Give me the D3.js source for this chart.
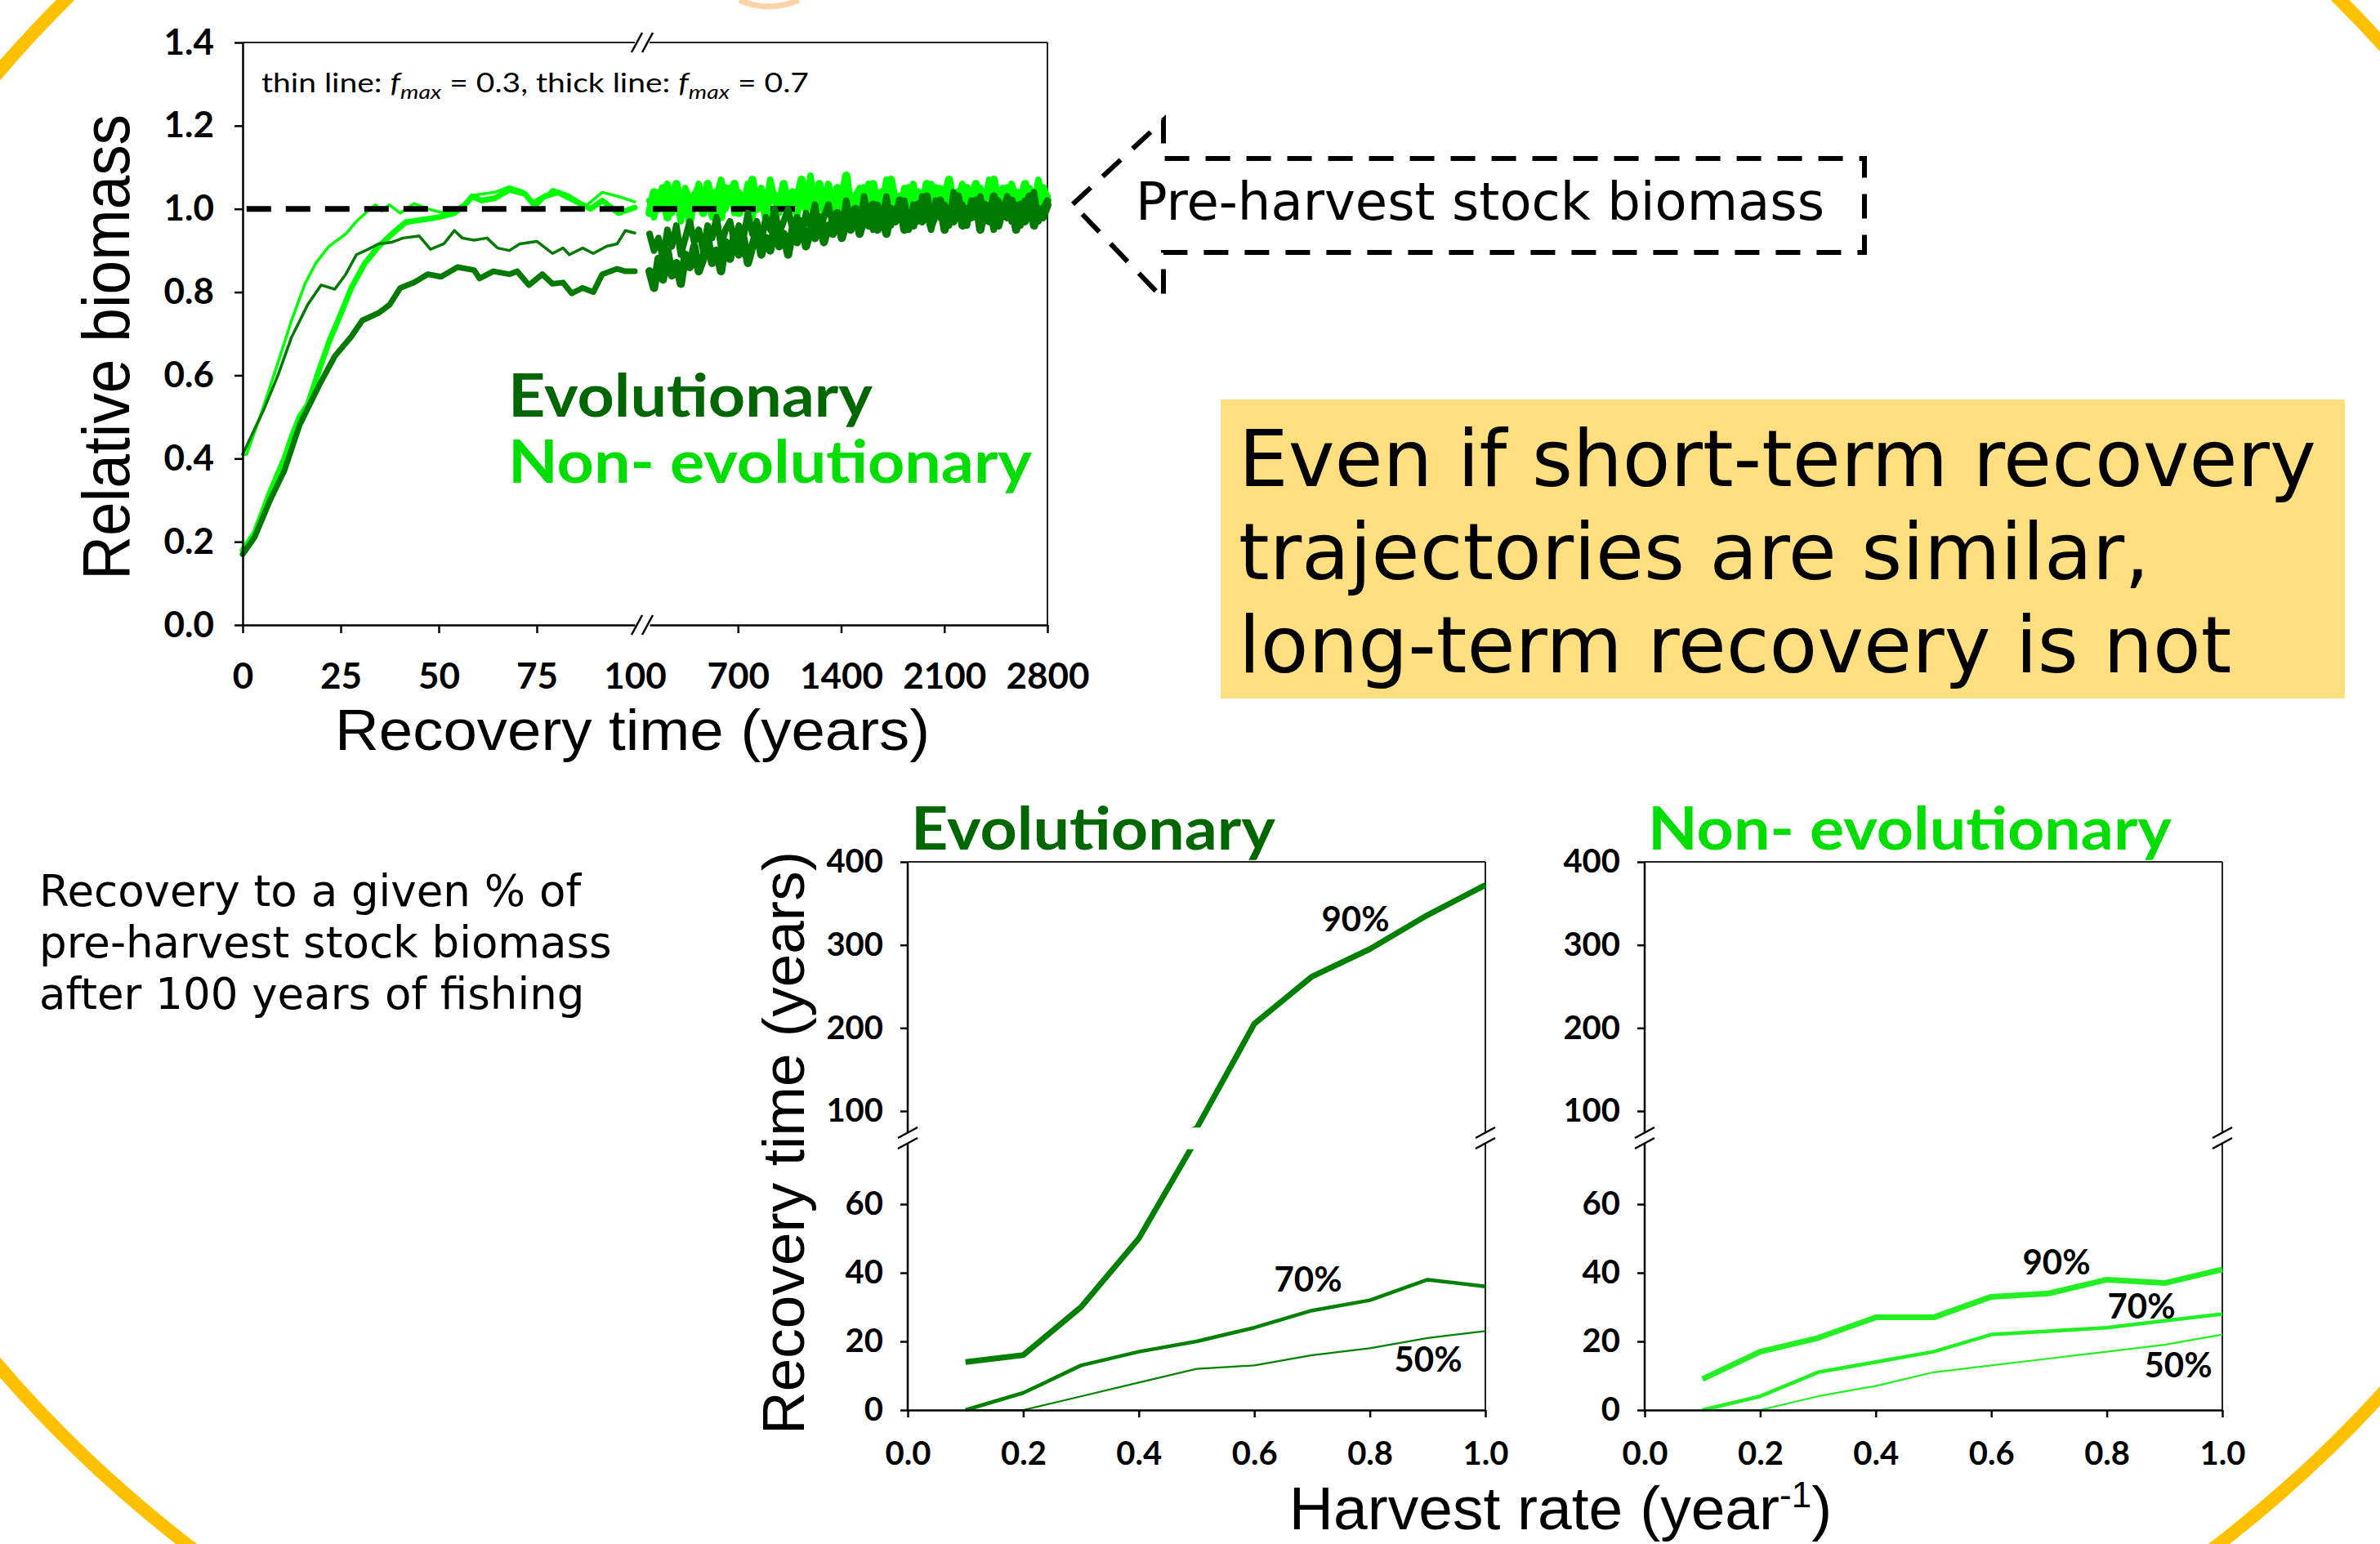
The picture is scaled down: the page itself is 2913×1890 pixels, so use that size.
<!DOCTYPE html>
<html>
<head>
<meta charset="utf-8">
<script src="https://cdn.jsdelivr.net/npm/d3@7"></script>
<style>
  body { margin: 0; background: #fff; overflow: hidden; }
  svg { display: block; }
</style>
</head>
<body>
<div id="chart"></div>
<script>
// ---- data: top chart, short-term recovery (years 0-100), [year, relative biomass]
const evoThinShort = [[0,0.41],[5.5,0.52],[9,0.60],[12.4,0.69],[16.6,0.77],[20,0.817],[23.5,0.807],[26.3,0.843],[29,0.89],[32,0.903],[34.7,0.916],[38.1,0.92],[40.9,0.93],[45,0.935],[47.9,0.903],[51.3,0.916],[54,0.948],[56,0.93],[59,0.925],[62.3,0.93],[65,0.906],[68,0.9],[70.7,0.916],[75,0.922],[79,0.893],[81.7,0.906],[83.3,0.89],[86.7,0.906],[89.4,0.893],[92.8,0.91],[95.5,0.916],[97.6,0.948],[100,0.942]];
const evoThickShort = [[0,0.17],[3,0.21],[7,0.30],[10.6,0.37],[14.5,0.48],[19.4,0.574],[23.5,0.646],[27.7,0.693],[30.5,0.732],[34.7,0.75],[37.5,0.77],[40.2,0.81],[43.7,0.823],[47.2,0.843],[50.6,0.837],[54.8,0.86],[59,0.853],[60.4,0.833],[63.9,0.85],[68,0.843],[70,0.85],[73,0.817],[76.4,0.843],[79,0.82],[81.7,0.823],[83.9,0.797],[86.7,0.81],[89.4,0.8],[91.7,0.843],[95.5,0.856],[97.6,0.85],[100,0.85]];
const nonEvoThinShort = [[0,0.41],[1,0.41],[4.8,0.51],[9,0.63],[12.4,0.73],[15.9,0.82],[18.7,0.87],[22,0.91],[26.3,0.94],[29,0.97],[32.5,1.0],[33.9,1.01],[35.5,0.995],[37.4,1.01],[40.2,0.99],[43.7,1.013],[47.2,1.0],[51.3,0.99],[56,1.007],[59,1.033],[64.4,1.04],[68,1.053],[71.5,1.043],[75,1.007],[79,1.047],[83.3,1.033],[87.5,1.007],[91.7,1.04],[95.8,1.03],[100,1.017]];
const nonEvoThickShort = [[0,0.18],[3,0.22],[7,0.32],[10.6,0.40],[12.4,0.45],[14.5,0.5],[16.6,0.53],[19.4,0.61],[22,0.68],[24.9,0.745],[27.7,0.81],[31.2,0.87],[34.7,0.91],[38.1,0.94],[41.6,0.968],[45.8,0.974],[50,0.98],[54,0.99],[57,1.013],[58.5,1.03],[61,1.02],[64.4,1.026],[68,1.046],[72,1.036],[74,1.013],[77,1.03],[80.4,1.04],[84.6,1.02],[88.7,1.0],[91.7,1.02],[95.8,0.99],[100,1.003]];

// ---- data: top chart, long-term recovery (years 100-2800, evenly spaced samples)
const evoThinLong = [
  0.94,0.90,0.93,0.88,0.95,0.91,0.96,0.89,0.93,0.97, 0.92,0.95,0.90,0.96,0.93,0.98,0.91,0.95,0.97,0.92,
  0.96,0.93,0.99,0.94,0.97,0.92,0.98,0.95,1.00,0.94, 0.97,1.00,0.95,0.98,0.93,0.99,0.96,1.01,0.94,0.98,
  1.01,0.96,0.99,0.95,1.02,0.97,1.00,0.96,1.03,0.98, 0.95,1.01,0.97,1.03,0.96,1.00,0.98,1.02,0.95,1.01,
  0.97,1.03,0.99,0.95,1.02,0.98,1.01,0.96,1.04,0.99, 1.01,0.96,1.02,0.98,1.03,0.97,1.00,0.95,1.02,0.99,
  1.03,0.97,1.01,0.96,1.02,0.99,1.04,0.97,1.00,1.02];
const evoThickLong = [
  0.85,0.81,0.88,0.83,0.90,0.84,0.87,0.82,0.89,0.86, 0.91,0.85,0.88,0.93,0.87,0.90,0.85,0.92,0.88,0.94,
  0.89,0.93,0.87,0.91,0.95,0.89,0.93,0.90,0.96,0.91, 0.94,0.89,0.95,0.92,0.97,0.91,0.95,0.93,0.98,0.92,
  0.96,0.94,0.99,0.93,0.97,0.95,1.00,0.94,0.98,0.96, 1.01,0.95,0.98,0.94,1.00,0.97,1.02,0.95,0.99,0.96,
  1.01,0.97,1.03,0.96,0.99,1.02,0.95,1.00,0.97,1.03, 0.96,1.00,0.98,1.02,0.95,1.01,0.97,1.03,0.96,1.00,
  0.98,1.02,0.95,1.01,0.97,1.03,0.96,1.00,0.98,1.01];
const nonEvoThinLong = [
  1.02,0.98,1.04,1.01,1.06,0.99,1.03,0.97,1.05,1.02, 1.00,1.06,1.01,1.04,0.98,1.03,1.07,1.00,1.05,0.99,
  1.04,1.01,1.06,0.98,1.03,1.05,1.00,1.07,1.02,0.99, 1.05,1.01,1.04,0.98,1.06,1.02,1.08,1.00,1.03,0.99,
  1.06,1.02,1.04,1.00,1.07,0.99,1.03,1.05,1.01,1.06, 0.98,1.04,1.01,1.07,1.00,1.03,0.99,1.05,1.02,1.06,
  1.00,1.04,0.98,1.06,1.02,1.05,0.99,1.07,1.01,1.03, 1.06,1.00,1.04,0.98,1.05,1.02,1.07,0.99,1.03,1.05,
  1.00,1.06,1.02,1.04,0.98,1.05,1.01,1.07,1.00,1.03];
const nonEvoThickLong = [
  0.99,1.04,1.00,1.05,0.98,1.03,1.06,1.00,1.04,0.97, 1.03,1.05,0.99,1.06,1.01,1.04,0.98,1.05,1.02,1.06,
  0.99,1.03,1.01,1.07,1.00,1.04,0.98,1.05,1.03,1.00, 1.06,0.99,1.04,1.02,1.07,1.00,1.03,0.98,1.06,1.01,
  1.04,0.99,1.05,1.02,1.08,1.00,1.03,0.98,1.05,1.02, 1.06,1.00,1.04,0.99,1.07,1.01,1.03,0.98,1.05,1.02,
  1.04,0.99,1.06,1.01,1.05,0.98,1.03,1.07,1.00,1.04, 0.99,1.05,1.02,1.06,1.00,1.04,0.98,1.07,1.01,1.03,
  1.05,0.99,1.04,1.01,1.06,1.00,1.03,0.98,1.05,1.02];

const bioTicks = [0, 0.2, 0.4, 0.6, 0.8, 1.0, 1.2, 1.4];
const shortTicks = [0, 25, 50, 75, 100];
const longTicks = [700, 1400, 2100, 2800];

// ---- data: bottom charts, recovery time (years) vs harvest rate
const harvestRates = [0.1, 0.2, 0.3, 0.4, 0.5, 0.6, 0.7, 0.8, 0.9, 1.0];
const evo90 = [14, 16, 30, 50, 79, 205, 262, 295, 336, 372];
const evo70 = [0, 5, 13, 17, 20, 24, 29, 32, 38, 36];
const evo50 = [0, 0, 4, 8, 12, 13, 16, 18, 21, 23];
const nonEvo90 = [9, 17, 21, 27, 27, 33, 34, 38, 37, 41];
const nonEvo70 = [0, 4, 11, 14, 17, 22, 23, 24, 26, 28];
const nonEvo50 = [0, 0, 4, 7, 11, 13, 15, 17, 19, 22];
const harvestTicks = [0, 0.2, 0.4, 0.6, 0.8, 1.0];
const upperTicks = [100, 200, 300, 400];
const lowerTicks = [0, 20, 40, 60];

const DARK = "#007a00", BRIGHT = "#00ff00";
const DARK_TEXT = "#006600", BRIGHT_TEXT = "#00dd00";
const CAL = "Lato, 'Open Sans', sans-serif";
const ARIAL = "'Liberation Sans', Arial, sans-serif";
const VERD = "'DejaVu Sans', Verdana, sans-serif";

const width = 2913, height = 1890;
const svg = d3.select("#chart").append("svg")
  .attr("width", width)
  .attr("height", height);

// slide decoration: big yellow ring
svg.append("ellipse")
  .attr("cx", 1472).attr("cy", 880).attr("rx", 1780).attr("ry", 1412)
  .attr("fill", "none").attr("stroke", "#ffc000").attr("stroke-width", 16);
svg.append("path")
  .attr("d", "M905,0 Q940,16 978,0")
  .attr("fill", "none").attr("stroke", "#fcd2a8").attr("stroke-width", 7);

function styleAxis(g, size) {
  g.attr("font-family", CAL).attr("font-size", size).attr("font-weight", "bold");
  g.selectAll("line").attr("stroke", "#000").attr("stroke-width", 2.5);
  g.selectAll("path.domain").attr("stroke", "#000").attr("stroke-width", 2.5);
  g.selectAll("text").attr("fill", "#000");
}

// "//" axis break; vertical=true for a break on a vertical axis
function breakMark(cx, cy, vertical) {
  const g = svg.append("g").attr("transform", `translate(${cx},${cy})`);
  if (vertical) {
    g.append("polygon").attr("points", "-12,0 12,-13 12,0 -12,13").attr("fill", "#fff");
    g.append("line").attr("x1", -12).attr("y1", 0).attr("x2", 12).attr("y2", -13);
    g.append("line").attr("x1", -12).attr("y1", 13).attr("x2", 12).attr("y2", 0);
  } else {
    g.append("polygon").attr("points", "-13,12 0,-12 13,-12 0,12").attr("fill", "#fff");
    g.append("line").attr("x1", -13).attr("y1", 12).attr("x2", 0).attr("y2", -12);
    g.append("line").attr("x1", 0).attr("y1", 12).attr("x2", 13).attr("y2", -12);
  }
  g.selectAll("line").attr("stroke", "#000").attr("stroke-width", 2.5);
}

// ================= top chart =================
const topBox = { left: 297, right: 1282, top: 52, bottom: 765 };
const xShort = d3.scaleLinear().domain([0, 100]).range([297, 777]);
const xLong = d3.scaleLinear().domain([100, 2800]).range([795, 1282]);
const yBio = d3.scaleLinear().domain([0, 1.4]).range([topBox.bottom, topBox.top]);

const shortLine = d3.line().x(d => xShort(d[0])).y(d => yBio(d[1]));
const longLine = d3.line().x(d => xLong(d[0])).y(d => yBio(d[1]));
const withYears = vals => vals.map((v, i) => [100 + i * 2700 / (vals.length - 1), v]);

function drawLine(gen, data, color, w) {
  svg.append("path").datum(data)
    .attr("d", gen)
    .attr("fill", "none")
    .attr("stroke", color)
    .attr("stroke-width", w)
    .attr("stroke-linejoin", "round")
    .attr("stroke-linecap", "round");
}

// frame
svg.append("line").attr("x1", 297).attr("x2", 777).attr("y1", topBox.top).attr("y2", topBox.top);
svg.append("line").attr("x1", 795).attr("x2", topBox.right).attr("y1", topBox.top).attr("y2", topBox.top);
svg.append("line").attr("x1", topBox.right).attr("x2", topBox.right).attr("y1", topBox.top).attr("y2", topBox.bottom);
svg.selectAll("line").attr("stroke", "#222").attr("stroke-width", 2);

// non-evolutionary (bright) lines
drawLine(longLine, withYears(nonEvoThinLong), BRIGHT, 8);
drawLine(longLine, withYears(nonEvoThickLong), BRIGHT, 10);
drawLine(shortLine, nonEvoThinShort, BRIGHT, 3.5);
drawLine(shortLine, nonEvoThickShort, BRIGHT, 7);

// pre-harvest reference level
svg.append("line")
  .attr("x1", xShort(1)).attr("x2", xShort(100))
  .attr("y1", yBio(1)).attr("y2", yBio(1))
  .attr("stroke", "#000").attr("stroke-width", 7).attr("stroke-dasharray", "30,18");
svg.append("line")
  .attr("x1", xLong(100) + 4).attr("x2", xLong(1100))
  .attr("y1", yBio(1)).attr("y2", yBio(1))
  .attr("stroke", "#000").attr("stroke-width", 7).attr("stroke-dasharray", "30,18");

// evolutionary (dark) lines
drawLine(longLine, withYears(evoThinLong), DARK, 8);
drawLine(longLine, withYears(evoThickLong), DARK, 10);
drawLine(shortLine, evoThinShort, DARK, 3.5);
drawLine(shortLine, evoThickShort, DARK, 7);

// axes
const gyBio = svg.append("g")
  .attr("transform", `translate(${topBox.left},0)`)
  .call(d3.axisLeft(yBio).tickValues(bioTicks).tickFormat(d3.format(".1f")).tickSize(10).tickSizeOuter(0).tickPadding(25));
styleAxis(gyBio, 44);

const gxShort = svg.append("g")
  .attr("transform", `translate(0,${topBox.bottom})`)
  .call(d3.axisBottom(xShort).tickValues(shortTicks).tickFormat(d3.format("d")).tickSize(10).tickSizeOuter(0).tickPadding(37));
styleAxis(gxShort, 44);
gxShort.selectAll(".tick").filter(d => d === 100).select("line").remove();

const gxLong = svg.append("g")
  .attr("transform", `translate(0,${topBox.bottom})`)
  .call(d3.axisBottom(xLong).tickValues(longTicks).tickFormat(d3.format("d")).tickSize(10).tickSizeOuter(0).tickPadding(37));
styleAxis(gxLong, 44);

breakMark(786, topBox.top, false);
breakMark(786, topBox.bottom, false);

// titles and labels
svg.append("text")
  .attr("transform", "translate(158,425) rotate(-90)")
  .attr("text-anchor", "middle")
  .attr("font-family", ARIAL).attr("font-size", 82)
  .attr("textLength", 570).attr("lengthAdjust", "spacingAndGlyphs")
  .text("Relative biomass");

svg.append("text")
  .attr("x", 774).attr("y", 918)
  .attr("text-anchor", "middle")
  .attr("font-family", ARIAL).attr("font-size", 70)
  .attr("textLength", 728).attr("lengthAdjust", "spacingAndGlyphs")
  .text("Recovery time (years)");

const fmax = svg.append("text")
  .attr("x", 320).attr("y", 113)
  .attr("font-family", CAL).attr("font-size", 33)
  .attr("textLength", 670).attr("lengthAdjust", "spacingAndGlyphs")
  .style("white-space", "pre");
fmax.append("tspan").text("thin line: ");
fmax.append("tspan").attr("font-style", "italic").text("f");
fmax.append("tspan").attr("font-style", "italic").attr("font-size", 24).attr("dy", 8).text("max");
fmax.append("tspan").attr("dy", -8).text(" = 0.3, thick line: ");
fmax.append("tspan").attr("font-style", "italic").text("f");
fmax.append("tspan").attr("font-style", "italic").attr("font-size", 24).attr("dy", 8).text("max");
fmax.append("tspan").attr("dy", -8).text(" = 0.7");

svg.append("text")
  .attr("x", 622).attr("y", 510)
  .attr("font-family", CAL).attr("font-size", 72).attr("font-weight", "bold")
  .attr("fill", DARK_TEXT)
  .attr("textLength", 446).attr("lengthAdjust", "spacingAndGlyphs")
  .text("Evolutionary");
svg.append("text")
  .attr("x", 622).attr("y", 591)
  .attr("font-family", CAL).attr("font-size", 72).attr("font-weight", "bold")
  .attr("fill", BRIGHT_TEXT)
  .attr("textLength", 641).attr("lengthAdjust", "spacingAndGlyphs")
  .text("Non- evolutionary");

// ================= callouts =================
svg.append("path")
  .attr("d", "M1313,250 L1424,147 L1424,194 L2282,194 L2282,309 L1424,309 L1424,366 Z")
  .attr("fill", "none").attr("stroke", "#000").attr("stroke-width", 6)
  .attr("stroke-dasharray", "30,20");
svg.append("text")
  .attr("x", 1390).attr("y", 269)
  .attr("font-family", VERD).attr("font-size", 64)
  .text("Pre-harvest stock biomass");

svg.append("rect")
  .attr("x", 1494).attr("y", 489).attr("width", 1376).attr("height", 366)
  .attr("fill", "#ffdf80");
const noteLines = ["Even if short-term recovery", "trajectories are similar,", "long-term recovery is not"];
svg.append("g").selectAll("text").data(noteLines).join("text")
  .attr("x", 1516).attr("y", (d, i) => 595 + i * 114)
  .attr("font-family", VERD).attr("font-size", 96)
  .text(d => d);

const sideLines = ["Recovery to a given % of", "pre-harvest stock biomass", "after 100 years of fishing"];
svg.append("g").selectAll("text").data(sideLines).join("text")
  .attr("x", 48).attr("y", (d, i) => 1109 + i * 63)
  .attr("font-family", VERD).attr("font-size", 53)
  .text(d => d);

// ================= bottom charts =================
const botTop = 1055, botBottom = 1726, breakY = 1393;
const yUpper = d3.scaleLinear().domain([100, 400]).range([1360, botTop]);
const yLower = d3.scaleLinear().domain([0, 60]).range([botBottom, 1474]);

function drawPanel(id, left, right, title, titleColor, lineColor, series) {
  const x = d3.scaleLinear().domain([0, 1]).range([left, right]);
  const defs = svg.append("defs");
  defs.append("clipPath").attr("id", id + "-up")
    .append("rect").attr("x", left - 20).attr("y", botTop - 20).attr("width", right - left + 40).attr("height", yUpper(80) - botTop + 20);
  defs.append("clipPath").attr("id", id + "-low")
    .append("rect").attr("x", left - 20).attr("y", yLower(76)).attr("width", right - left + 40).attr("height", botBottom + 20 - yLower(76));

  // frame
  svg.append("line").attr("x1", left).attr("x2", right).attr("y1", botTop).attr("y2", botTop)
    .attr("stroke", "#222").attr("stroke-width", 2);
  svg.append("line").attr("x1", right).attr("x2", right).attr("y1", botTop).attr("y2", botBottom)
    .attr("stroke", "#222").attr("stroke-width", 2);
  svg.append("line").attr("x1", left).attr("x2", left).attr("y1", botTop).attr("y2", botBottom)
    .attr("stroke", "#000").attr("stroke-width", 2.5);

  series.forEach(s => {
    const pts = harvestRates.map((r, i) => [r, s.values[i]]);
    [["-up", yUpper], ["-low", yLower]].forEach(([suffix, y]) => {
      svg.append("path").datum(pts)
        .attr("clip-path", `url(#${id}${suffix})`)
        .attr("d", d3.line().x(d => x(d[0])).y(d => y(d[1])))
        .attr("fill", "none")
        .attr("stroke", lineColor)
        .attr("stroke-width", s.width)
        .attr("stroke-linejoin", "round");
    });
    svg.append("text")
      .attr("x", s.label[0]).attr("y", s.label[1])
      .attr("text-anchor", "middle")
      .attr("font-family", CAL).attr("font-size", 42).attr("font-weight", "bold")
      .text(s.name);
  });

  const gu = svg.append("g").attr("transform", `translate(${left},0)`)
    .call(d3.axisLeft(yUpper).tickValues(upperTicks).tickSize(9).tickSizeOuter(0).tickPadding(21));
  const gl = svg.append("g").attr("transform", `translate(${left},0)`)
    .call(d3.axisLeft(yLower).tickValues(lowerTicks).tickSize(9).tickSizeOuter(0).tickPadding(21));
  const gx = svg.append("g").attr("transform", `translate(0,${botBottom})`)
    .call(d3.axisBottom(x).tickValues(harvestTicks).tickFormat(d3.format(".1f")).tickSize(9).tickSizeOuter(0).tickPadding(30));
  [gu, gl, gx].forEach(g => styleAxis(g, 40));
  gu.select("path.domain").remove();
  gl.select("path.domain").remove();

  breakMark(left, breakY, true);
  breakMark(right, breakY, true);

  svg.append("text")
    .attr("x", left + 4).attr("y", 1040)
    .attr("font-family", CAL).attr("font-size", 72).attr("font-weight", "bold")
    .attr("fill", titleColor)
    .attr("textLength", title.length > 12 ? 641 : 446).attr("lengthAdjust", "spacingAndGlyphs")
    .text(title);
}

drawPanel("evo", 1111, 1818, "Evolutionary", DARK_TEXT, "#008000", [
  { name: "90%", values: evo90, width: 7, label: [1659, 1140] },
  { name: "70%", values: evo70, width: 4.5, label: [1601, 1581] },
  { name: "50%", values: evo50, width: 2.2, label: [1748, 1679] }
]);
drawPanel("nonevo", 2013, 2720, "Non- evolutionary", BRIGHT_TEXT, "#22f022", [
  { name: "90%", values: nonEvo90, width: 7, label: [2517, 1560] },
  { name: "70%", values: nonEvo70, width: 4.5, label: [2621, 1614] },
  { name: "50%", values: nonEvo50, width: 2.2, label: [2666, 1686] }
]);

svg.append("text")
  .attr("transform", "translate(984,1399) rotate(-90)")
  .attr("text-anchor", "middle")
  .attr("font-family", ARIAL).attr("font-size", 73)
  .text("Recovery time (years)");

const hx = svg.append("text")
  .attr("x", 1910).attr("y", 1872)
  .attr("text-anchor", "middle")
  .attr("font-family", ARIAL).attr("font-size", 75);
hx.append("tspan").text("Harvest rate (year");
hx.append("tspan").attr("font-size", 44).attr("dy", -27).text("-1");
hx.append("tspan").attr("dy", 27).text(")");
</script>
</body>
</html>
